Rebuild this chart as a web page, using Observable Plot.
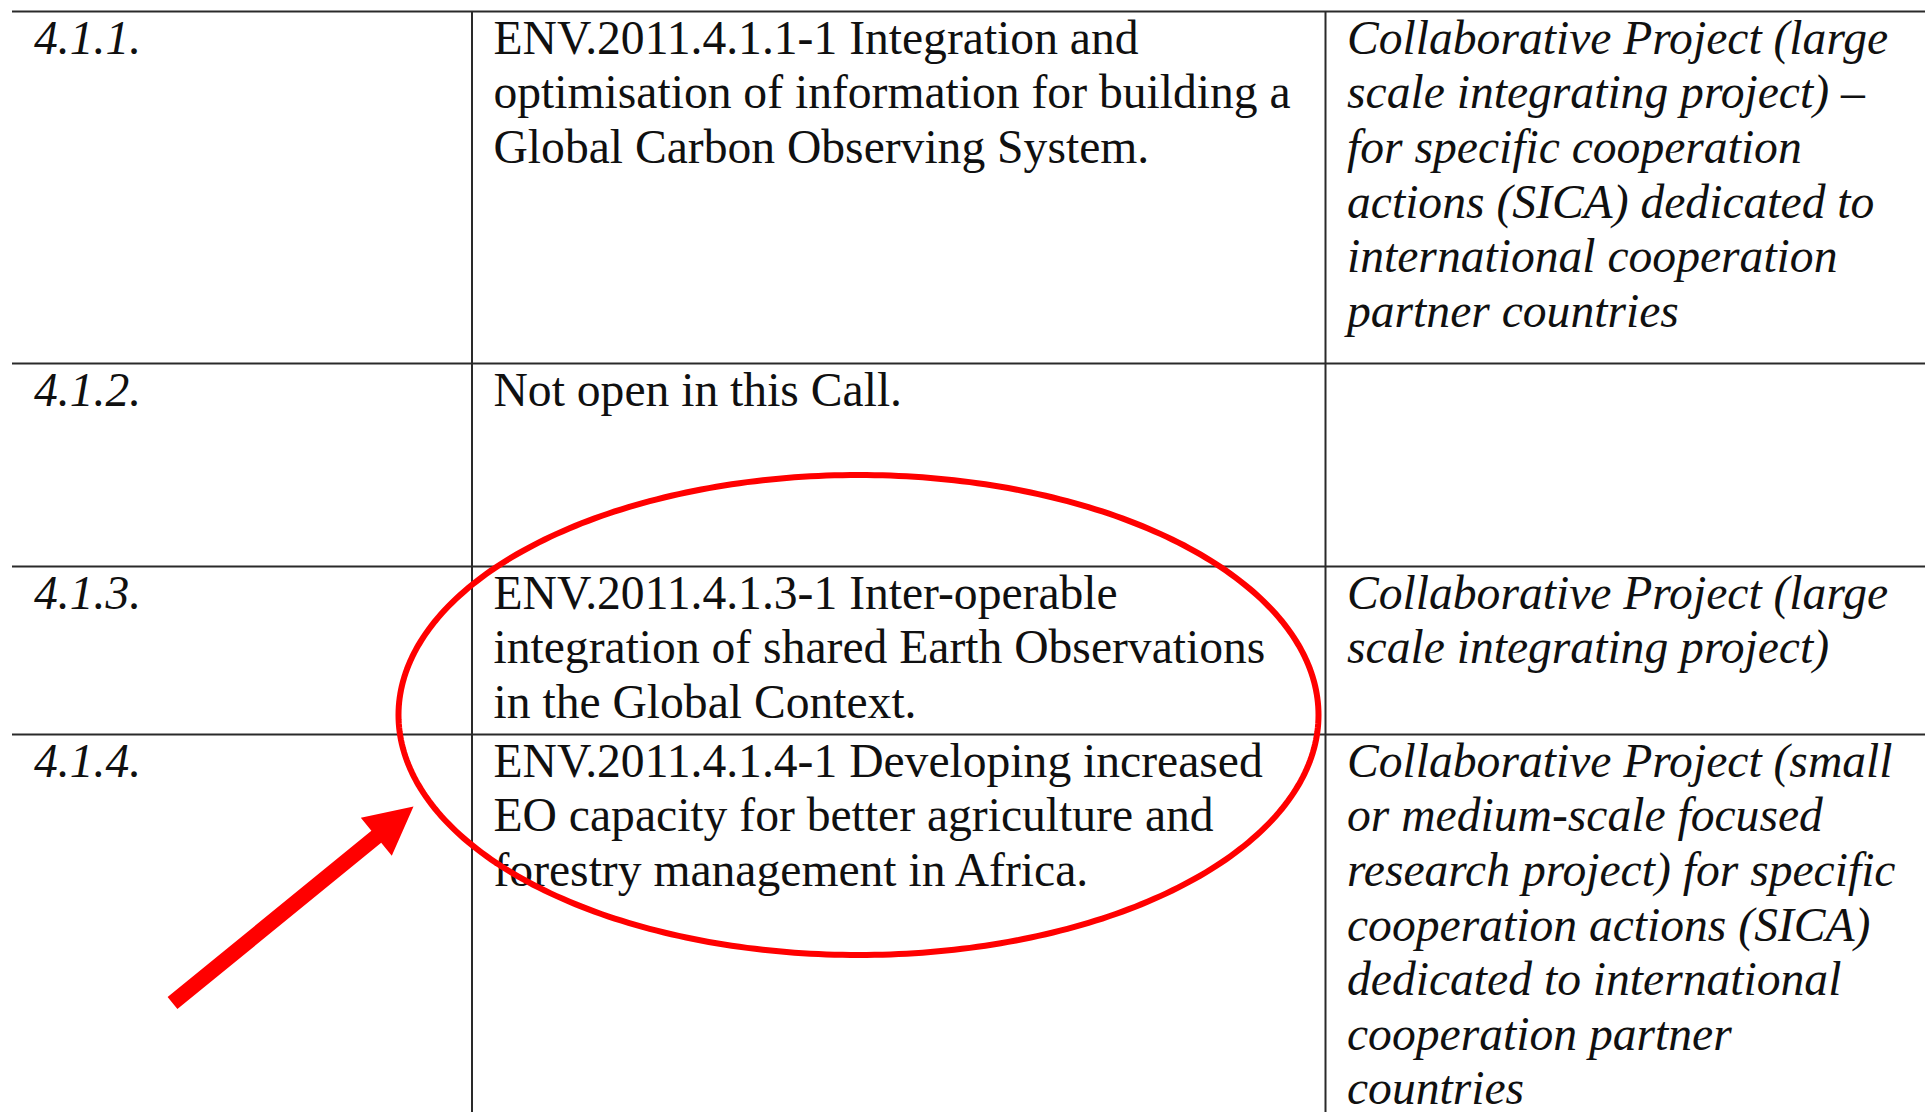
<!DOCTYPE html>
<html>
<head>
<meta charset="utf-8">
<script src="https://cdn.jsdelivr.net/npm/d3@7"></script>
<script src="https://cdn.jsdelivr.net/npm/@observablehq/plot@0.6"></script>
<style>
  html, body { margin: 0; padding: 0; background: #ffffff; overflow: hidden; }
  #chart svg { display: block; }
</style>
</head>
<body>
<div id="chart"></div>
<script>
// ---- table content ----
const rowLabels = ["4.1.1.", "4.1.2.", "4.1.3.", "4.1.4."];
const topics = [
  "ENV.2011.4.1.1-1 Integration and\noptimisation of information for building a\nGlobal Carbon Observing System.",
  "Not open in this Call.",
  "ENV.2011.4.1.3-1 Inter-operable\nintegration of shared Earth Observations\nin the Global Context.",
  "ENV.2011.4.1.4-1 Developing increased\nEO capacity for better agriculture and\nforestry management in Africa."
];
const schemes = [
  "Collaborative Project (large\nscale integrating project) \u2013\nfor specific cooperation\nactions (SICA) dedicated to\ninternational cooperation\npartner countries",
  "",
  "Collaborative Project (large\nscale integrating project)",
  "Collaborative Project (small\nor medium-scale focused\nresearch project) for specific\ncooperation actions (SICA)\ndedicated to international\ncooperation partner\ncountries"
];
// table structure (row / column boundaries in page units)
const rowEdges = [11, 363, 566, 734];
const colEdges = [12, 471.5, 1325, 1925];
// highlight annotation (ellipse) and arrow
const highlight = {cx: 858, cy: 714.5, rx: 460, ry: 240};
const arrowTail = [172, 1002.5];
const arrowTip = [413, 806];

// ---- build ----
const W = 1925, H = 1112;
const FS = 47.6;
const LH = 54.6 / FS;

const cells = rowLabels.flatMap((label, i) => [
  {col: 0, row: i, text: label, italic: true},
  {col: 1, row: i, text: topics[i], italic: false},
  {col: 2, row: i, text: schemes[i], italic: true}
]);

const ellipsePts = d3.range(0, 360, 1).map(a => {
  const t = a * Math.PI / 180;
  return {x: highlight.cx + highlight.rx * Math.cos(t), y: highlight.cy + highlight.ry * Math.sin(t)};
});

const adx = arrowTip[0] - arrowTail[0], ady = arrowTip[1] - arrowTail[1];
const arrowLen = Math.hypot(adx, ady);
const arrowRot = Math.atan2(adx, -ady) * 180 / Math.PI;
const shaftW = 15.5, headL = 48, headW = 49;
const arrowShape = {
  draw(context, l) {
    const b = -(l - headL);
    context.moveTo(-shaftW / 2, 0);
    context.lineTo(-shaftW / 2, b);
    context.lineTo(-headW / 2, b);
    context.lineTo(0, -l);
    context.lineTo(headW / 2, b);
    context.lineTo(shaftW / 2, b);
    context.lineTo(shaftW / 2, 0);
    context.closePath();
  }
};

const textCommon = {
  x: d => colEdges[d.col],
  y: d => rowEdges[d.row],
  text: "text",
  textAnchor: "start",
  lineAnchor: "top",
  lineHeight: LH,
  dx: 21.5,
  dy: 3.6,
  fontSize: FS,
  fontFamily: "'Liberation Serif', 'Times New Roman', serif",
  fill: "#101010"
};

const chart = Plot.plot({
  width: W,
  height: H,
  margin: 0,
  x: {domain: [0, W], range: [0, W], axis: null},
  y: {domain: [0, H], range: [0, H], axis: null},
  style: {background: "#ffffff", color: "#101010"},
  marks: [
    Plot.ruleY(rowEdges, {x1: colEdges[0], x2: colEdges[3], stroke: "#2a2a2a", strokeWidth: 2.2}),
    Plot.ruleX(colEdges.slice(1, 3), {y1: rowEdges[0], y2: H, stroke: "#2a2a2a", strokeWidth: 2}),
    Plot.text(cells.filter(d => !d.italic), {...textCommon}),
    Plot.text(cells.filter(d => d.italic), {...textCommon, fontStyle: "italic"}),
    Plot.line(ellipsePts, {x: "x", y: "y", stroke: "#ff0000", strokeWidth: 6, curve: "linear-closed"}),
    Plot.vector([{x: arrowTail[0], y: arrowTail[1]}], {
      x: "x", y: "y", length: arrowLen, rotate: arrowRot, anchor: "start",
      shape: arrowShape, fill: "#ff0000", stroke: "none"
    })
  ]
});
document.getElementById("chart").append(chart);
</script>
</body>
</html>
